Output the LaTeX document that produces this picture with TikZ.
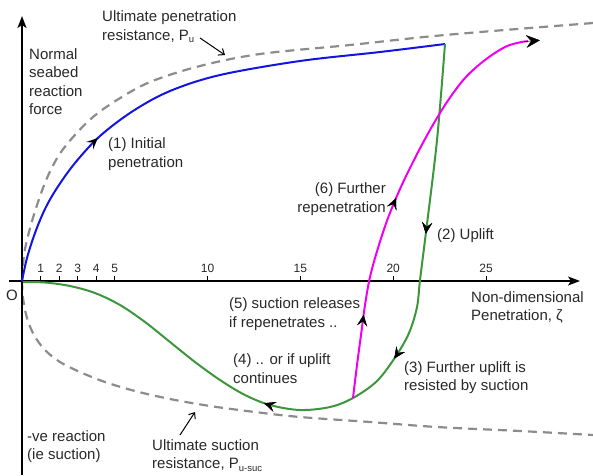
\documentclass[tikz,border=0pt]{standalone}
\usepackage{fontspec}
\setmainfont{Liberation Sans}
\usetikzlibrary{arrows.meta,decorations.markings}
\definecolor{txt}{RGB}{40,40,40}
\definecolor{curveblue}{RGB}{20,20,225}
\definecolor{curvegreen}{RGB}{60,150,60}
\definecolor{curvemag}{RGB}{240,0,240}
\definecolor{dashgray}{RGB}{140,140,140}
\tikzset{
  lbl/.style={inner sep=0pt,text=txt,font=\fontsize{15}{18.3}\selectfont,align=left},
  ticklbl/.style={inner sep=0pt,text=txt,font=\fontsize{12}{13}\selectfont},
  axisline/.style={line width=1.5pt,black,-{Stealth[length=12pt,width=9pt,inset=3pt]}},
  bound/.style={line width=2.2pt,dashgray,dash pattern=on 9pt off 6pt},
  curve/.style={line width=2pt},
  pointer/.style={line width=1pt,black,-{Straight Barb[length=5pt,width=8pt]}},
  midarrow/.style={postaction={decorate},decoration={markings,
     mark=at position #1 with {\arrow[black]{Stealth[length=11pt,width=10pt,inset=4.5pt]}}}},
  tiponly/.style={black,line width=0.5pt,-{Stealth[length=14pt,width=13pt,inset=5pt]}},
}
\newcommand{\subtext}[1]{\raisebox{-0.35ex}{\fontsize{9.5}{9.5}\selectfont #1}}
\begin{document}
\begin{tikzpicture}[x=1pt,y=-1pt]
\useasboundingbox (0,0) rectangle (593,475);
% bounds (dashed)
\draw[bound] plot[smooth,tension=0.55] coordinates {(22,281) (24,255) (29,232) (37,205) (47,178) (59,155) (74,136) (93,117) (117,100) (150,82) (200,66) (260,54) (350,45) (445,35) (593,23)};
\draw[bound] plot[smooth,tension=0.55] coordinates {(22,281) (23,298) (27,318) (34,335) (45,350) (60,362) (80,372) (105,382) (135,391) (170,399) (210,406) (255,412) (300,417) (370,422) (437,427) (520,431) (593,435)};
% axes
\draw[axisline] (22,475) -- (22,16);
\draw[axisline] (9,281) -- (580,281);
% ticks
\foreach \v/\xx in {1/40.6,2/59.1,3/77.7,4/96.2,5/114.8,10/207.6,15/300.4,20/393.2,25/486} {
  \draw[line width=1pt,black] (\xx,281) -- (\xx,276);
  \node[ticklbl] (t\v) at (\xx,268) {\v};
}
% curves
\draw[curve,curveblue,midarrow=0.31] plot[smooth,tension=0.55] coordinates {(22,281) (27,258) (35,233) (45,209) (57,188) (75,163) (100,136) (133,111) (170,91) (220,75) (300,61) (380,52) (445,44)};
\draw[curve,curvegreen,midarrow=0.255,midarrow=0.43,midarrow=0.63] plot[smooth,tension=0.55] coordinates {(445,44) (437,140) (426,232) (420,280) (417,307) (409,333) (396,356) (377,381) (353,398) (330,407) (300,410) (270,405) (245,395) (220,380) (195,362) (170,342) (145,322) (120,305) (95,293) (70,286) (45,282.5) (23,282)};
\draw[curve,curvemag,midarrow=0.2,midarrow=0.49] plot[smooth,tension=0.55] coordinates {(353,398) (357,365) (361,335) (365,305) (370,277) (378,248) (388,218) (400,189) (414,160) (430,130) (447,102) (465,78) (485,60) (505,47) (520,42.3) (528,41.2)};
\coordinate (magend) at (540,40.3);
\coordinate (magpre) at (524,41.6);
\draw[tiponly] (magpre) -- (magend);
% labels
\node[lbl,anchor=west] (pu) at (102,27) {Ultimate penetration\\resistance, P\subtext{u}};
\node[lbl,anchor=west] (ylab) at (29,81.5) {Normal\\seabed\\reaction\\force};
\node[lbl,anchor=west] (l1) at (108,154) {(1) Initial\\penetration};
\node[lbl,anchor=east,align=right] (l6) at (386,199) {(6) Further\\repenetration};
\node[lbl,anchor=west] (l2) at (437,236) {(2) Uplift};
\node[lbl,anchor=west] (xlab) at (471,307.5) {Non-dimensional\\Penetration, ζ};
\node[lbl,anchor=west] (l5) at (229,314) {(5) suction releases\\if repenetrates ..};
\node[lbl,anchor=west] (l4) at (233,368.5) {(4) .. or if uplift\\continues};
\node[lbl,anchor=west] (l3) at (404,377.5) {(3) Further uplift is\\resisted by suction};
\node[lbl,anchor=west] (neg) at (27,446.5) {-ve reaction\\(ie suction)};
\node[lbl,anchor=west] (pus) at (152,455.5) {Ultimate suction\\resistance, P\subtext{u-suc}};
\node[lbl] (O) at (12,295) {O};
% pointers
\coordinate (pua) at (225,55);
\coordinate (pusa) at (195,412);
\draw[pointer] (200,38) -- (pua);
\draw[pointer] (180,435) -- (pusa);
\end{tikzpicture}
\end{document}
